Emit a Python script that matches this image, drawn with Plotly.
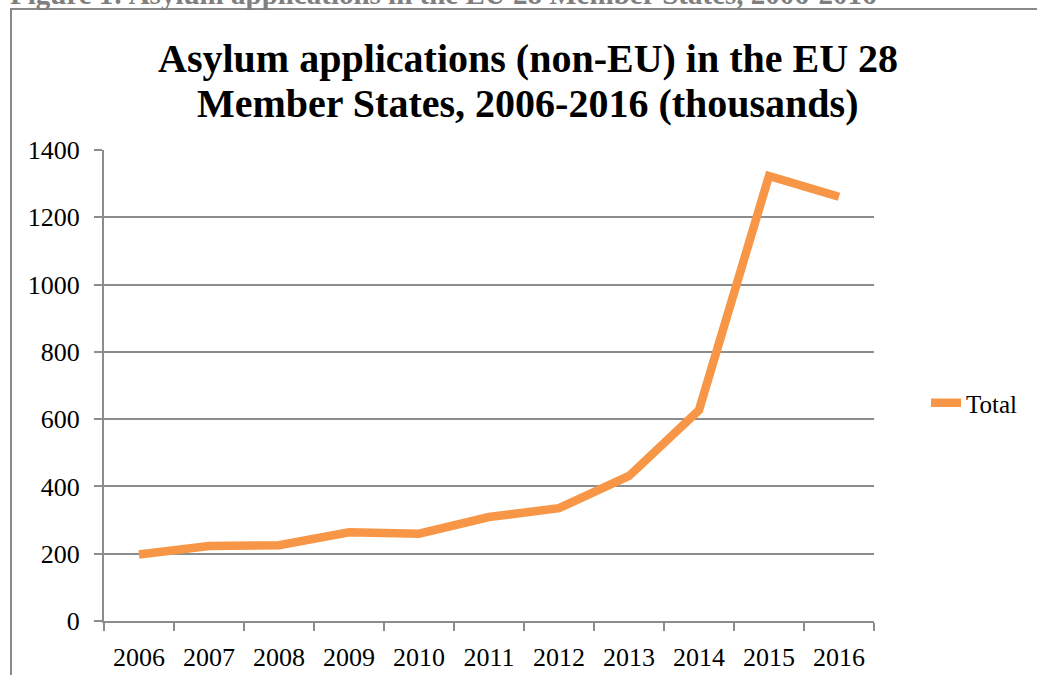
import plotly.graph_objects as go

years = ["2006", "2007", "2008", "2009", "2010", "2011", "2012", "2013", "2014", "2015", "2016"]
total = [197.4, 222.6, 225.2, 263.8, 259.4, 309.0, 335.3, 431.1, 626.9, 1322.8, 1260.9]
y_ticks = [0, 200, 400, 600, 800, 1000, 1200, 1400]

W, H = 1037, 675
L, R, T, B = 104, 874, 150, 621

def px_x(x):
    return (x - L) / (R - L)

def px_y(y):
    return (B - y) / (B - T)

serif = "Liberation Serif, Times New Roman, serif"
grid = "#8c8c8c"

fig = go.Figure()
fig.add_trace(go.Scatter(
    x=years, y=total, mode="lines", name="Total",
    line=dict(color="#F79646", width=8.5),
))

fig.update_layout(
    width=W, height=H,
    margin=dict(l=L, r=W - R, t=T, b=H - B, autoexpand=False),
    paper_bgcolor="white", plot_bgcolor="white",
    font=dict(family=serif, size=26, color="black"),
    showlegend=True,
    legend=dict(x=px_x(926), y=px_y(403), xanchor="left", yanchor="middle",
                font=dict(family=serif, size=25, color="black"),
                bgcolor="rgba(0,0,0,0)"),
    xaxis=dict(
        type="category", tickson="boundaries", ticks="outside", ticklen=8,
        tickcolor=grid, tickwidth=2, showline=True, linecolor=grid, linewidth=2,
        showgrid=False, tickfont=dict(family=serif, size=26), range=[-0.5, 10.5],
        ticklabelstandoff=12, automargin=False,
    ),
    yaxis=dict(
        range=[0, 1400], tickvals=y_ticks, ticks="outside", ticklen=8,
        tickcolor=grid, tickwidth=2, showline=True, linecolor=grid, linewidth=2,
        showgrid=True, gridcolor=grid, gridwidth=2, zeroline=False,
        tickfont=dict(family=serif, size=26), ticklabelstandoff=9, automargin=False,
    ),
)

# outer chart frame
fig.add_shape(type="rect", xref="paper", yref="paper",
              x0=px_x(11), x1=px_x(1045), y0=px_y(690), y1=px_y(9),
              line=dict(color="#8a8a8a", width=2), fillcolor="rgba(0,0,0,0)", layer="below")

# title lines
fig.add_annotation(xref="paper", yref="paper", x=px_x(528), y=px_y(58),
                   xanchor="center", yanchor="middle", showarrow=False,
                   text="<b>Asylum applications (non-EU) in the EU 28</b>",
                   font=dict(family=serif, size=40, color="black"))
fig.add_annotation(xref="paper", yref="paper", x=px_x(527), y=px_y(103),
                   xanchor="center", yanchor="middle", showarrow=False,
                   text="<b>Member States, 2006-2016 (thousands)</b>",
                   font=dict(family=serif, size=40, color="black"))

# document caption (cut off at top)
fig.add_annotation(xref="paper", yref="paper", x=px_x(8), y=px_y(-6),
                   xanchor="left", yanchor="middle", showarrow=False,
                   text="<b>Figure 1: Asylum applications in the EU 28 Member States, 2006-2016</b>",
                   font=dict(family=serif, size=29, color="#7f7f7f"))

fig.write_html("out.html")
